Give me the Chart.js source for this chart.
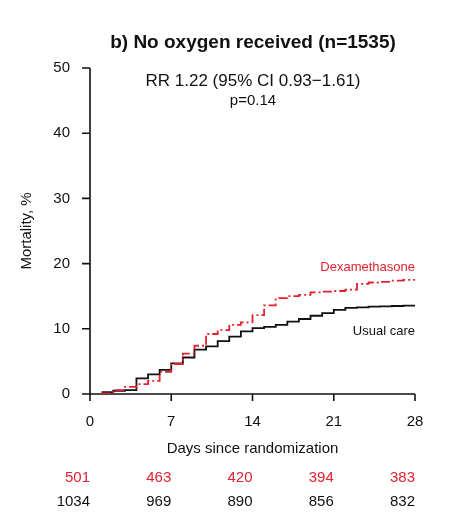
<!DOCTYPE html>
<html>
<head>
<meta charset="utf-8">
<script src="https://cdn.jsdelivr.net/npm/chart.js@4.4.0/dist/chart.umd.min.js"></script>
<style>
  body { margin: 0; background: #fff; }
  canvas { display: block; }
</style>
</head>
<body>
<canvas id="meuGrafico" width="450" height="524"></canvas>
<script>
// Dados (mortalidade acumulada, % por dia)
const dias = [1, 2, 3, 4, 5, 6, 7, 8, 9, 10, 11, 12, 13, 14, 15, 16, 17, 18, 19, 20, 21, 22, 23, 24, 25, 26, 27, 28];
const mortalidadeDexa = [0.1, 0.6, 1.1, 1.5, 2.0, 3.4, 4.6, 6.2, 7.4, 9.2, 9.8, 10.6, 11.0, 12.1, 13.6, 14.7, 15.0, 15.2, 15.6, 15.7, 15.8, 16.0, 16.9, 17.1, 17.2, 17.4, 17.5, 17.6];
const mortalidadeUsual = [0.3, 0.5, 0.6, 2.4, 3.0, 3.7, 4.7, 5.6, 6.8, 7.3, 8.1, 8.8, 9.6, 10.1, 10.3, 10.6, 11.1, 11.5, 12.0, 12.4, 12.9, 13.2, 13.3, 13.4, 13.45, 13.5, 13.55, 13.6];

// Rótulos dos eixos
const ticksX = [0, 7, 14, 21, 28];
const ticksY = [0, 10, 20, 30, 40, 50];

// Números em risco em cada marca do eixo X
const emRiscoDexa = [501, 463, 420, 394, 383];
const emRiscoUsual = [1034, 969, 890, 856, 832];

const VERMELHO = '#e3222f';
const PRETO = '#111111';
const FONTE = '"Liberation Sans", Arial, sans-serif';

// Desenha os eixos no estilo do R (só linha e marcas)
const eixosPlugin = {
    id: 'eixos',
    beforeDatasetsDraw(chart) {
        const ctx = chart.ctx;
        const sx = chart.scales.x;
        const sy = chart.scales.y;
        const y0 = sy.getPixelForValue(0);
        const x0 = sx.getPixelForValue(0);

        ctx.save();
        ctx.strokeStyle = PRETO;
        ctx.lineWidth = 1.6;

        // eixo X
        ctx.beginPath();
        ctx.moveTo(sx.getPixelForValue(ticksX[0]), y0);
        ctx.lineTo(sx.getPixelForValue(ticksX[ticksX.length - 1]), y0);
        ticksX.forEach(t => {
            const px = sx.getPixelForValue(t);
            ctx.moveTo(px, y0);
            ctx.lineTo(px, y0 + 7);
        });
        // eixo Y
        ctx.moveTo(x0, sy.getPixelForValue(ticksY[0]));
        ctx.lineTo(x0, sy.getPixelForValue(ticksY[ticksY.length - 1]));
        ticksY.forEach(t => {
            const py = sy.getPixelForValue(t);
            ctx.moveTo(x0, py);
            ctx.lineTo(x0 - 8, py);
        });
        ctx.stroke();

        // rótulos
        ctx.fillStyle = PRETO;
        ctx.font = '15px ' + FONTE;
        ctx.textBaseline = 'middle';
        ctx.textAlign = 'center';
        ticksX.forEach(t => ctx.fillText(String(t), sx.getPixelForValue(t), y0 + 28));
        ctx.textAlign = 'right';
        ticksY.forEach(t => ctx.fillText(String(t), x0 - 20, sy.getPixelForValue(t)));
        ctx.restore();
    },
    afterDraw(chart) {
        const ctx = chart.ctx;
        const sx = chart.scales.x;
        const sy = chart.scales.y;
        ctx.save();
        ctx.textBaseline = 'middle';

        // título
        ctx.fillStyle = PRETO;
        ctx.font = 'bold 19px ' + FONTE;
        ctx.textAlign = 'center';
        ctx.fillText('b) No oxygen received (n=1535)', 253, 43);

        // RR e valor p
        ctx.font = '17px ' + FONTE;
        ctx.fillText('RR 1.22 (95% CI 0.93\u22121.61)', 253, 81);
        ctx.font = '15px ' + FONTE;
        ctx.fillText('p=0.14', 253, 101);

        // título do eixo X
        ctx.fillText('Days since randomization', sx.getPixelForValue(14), 449);

        // título do eixo Y (rotacionado)
        ctx.save();
        ctx.translate(27, sy.getPixelForValue(25));
        ctx.rotate(-Math.PI / 2);
        ctx.fillText('Mortality, %', 0, 0);
        ctx.restore();

        // nomes das curvas
        ctx.font = '13px ' + FONTE;
        ctx.textAlign = 'right';
        ctx.fillStyle = VERMELHO;
        ctx.fillText('Dexamethasone', sx.getPixelForValue(28), 267);
        ctx.fillStyle = PRETO;
        ctx.fillText('Usual care', sx.getPixelForValue(28), 331);

        // números em risco (alinhados à direita de cada marca)
        ctx.font = '15px ' + FONTE;
        ticksX.forEach((t, i) => {
            const px = sx.getPixelForValue(t);
            ctx.fillStyle = VERMELHO;
            ctx.fillText(String(emRiscoDexa[i]), px, 478);
            ctx.fillStyle = PRETO;
            ctx.fillText(String(emRiscoUsual[i]), px, 502);
        });
        ctx.restore();
    }
};

function criarGrafico() {
    const ctx = document.getElementById('meuGrafico').getContext('2d');

    new Chart(ctx, {
        type: 'line',
        data: {
            datasets: [{
                label: 'Dexamethasone',
                data: dias.map((d, i) => ({ x: d, y: mortalidadeDexa[i] })),
                borderColor: VERMELHO,
                borderWidth: 1.8,
                borderDash: [9, 3, 2, 3],
                stepped: true,
                pointRadius: 0,
                fill: false
            }, {
                label: 'Usual care',
                data: dias.map((d, i) => ({ x: d, y: mortalidadeUsual[i] })),
                borderColor: PRETO,
                borderWidth: 1.8,
                stepped: true,
                pointRadius: 0,
                fill: false
            }]
        },
        options: {
            responsive: false,
            animation: false,
            devicePixelRatio: 1,
            layout: { padding: { left: 90, right: 35, top: 68, bottom: 130 } },
            scales: {
                x: { type: 'linear', min: 0, max: 28, display: false },
                y: { type: 'linear', min: 0, max: 50, display: false }
            },
            plugins: {
                legend: { display: false },
                tooltip: { enabled: false }
            }
        },
        plugins: [eixosPlugin]
    });
}

window.addEventListener('DOMContentLoaded', () => {
    criarGrafico();
});
</script>
</body>
</html>
